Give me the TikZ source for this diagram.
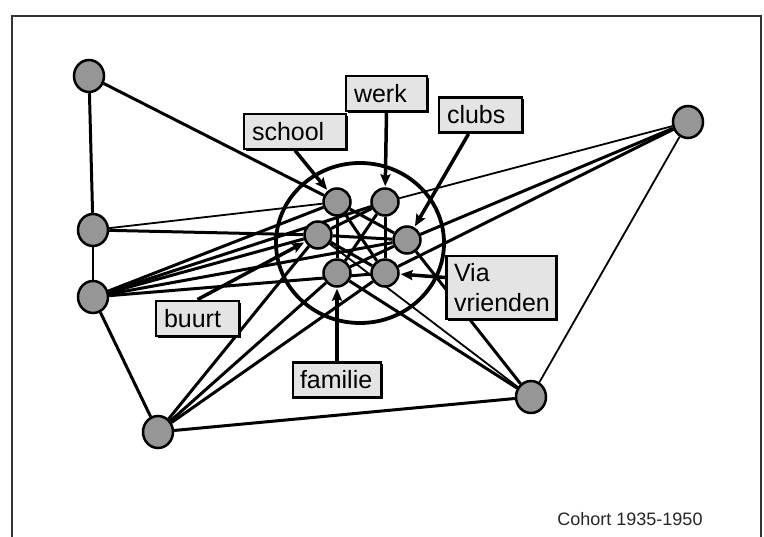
\documentclass[tikz,border=0pt]{standalone}
\usepackage{fontspec}
\setmainfont{Liberation Sans}
\usetikzlibrary{arrows.meta,shadows,backgrounds,shapes.geometric}
\definecolor{nodegray}{HTML}{969696}
\definecolor{boxgray}{HTML}{E4E4E4}
\begin{document}
\begin{tikzpicture}[x=1pt,y=-1pt,
  outer/.style={ellipse, minimum width=30pt, minimum height=32pt, inner sep=0pt, fill=nodegray, draw=black, line width=2.5pt},
  innr/.style={circle, minimum size=27pt, inner sep=0pt, fill=nodegray, draw=black, line width=2.5pt},
  lbl/.style={draw=black, line width=2.9pt, fill=boxgray, font=\fontsize{25}{30}\selectfont, align=left,
              inner xsep=8pt, inner ysep=0pt, minimum height=35pt,
              drop shadow={shadow xshift=1.6pt, shadow yshift=-1.6pt, fill=black, opacity=1}},
  lnk/.style={line width=3pt, black},
  lnkthin/.style={line width=1.8pt, black},
  arr/.style={line width=3.5pt, black, -{Stealth[length=12pt,width=10pt,inset=2pt]}, shorten >=1pt}
]
\useasboundingbox (0,0) rectangle (764,537);

% nodes
\node[outer] (A) at (89,76) {};
\node[outer] (B) at (93,230) {};
\node[outer] (C) at (93,297) {};
\node[outer] (D) at (158,432) {};
\node[outer] (E) at (531,397) {};
\node[outer] (F) at (688,122) {};
\node[innr] (n1) at (337,202) {};
\node[innr] (n2) at (385,202) {};
\node[innr] (n3) at (318,235) {};
\node[innr] (n4) at (407,240) {};
\node[innr] (n5) at (337,273) {};
\node[innr] (n6) at (385,273) {};

\begin{scope}[on background layer]
  \fill[white] (0,0) rectangle (764,537);
  % frame
  \draw[line width=1.8pt, black!80] (12,545) -- (12,16) -- (761,16) -- (761,545);
  \draw[line width=3.8pt] (360,243) ellipse [x radius=84, y radius=80];
  % outer structure
  \draw[lnk] (A) -- (B);
  \draw[lnk] (A) -- (n1);
  \draw[lnkthin] (B) -- (C);
  \draw[lnkthin] (B) -- (n1);
  \draw[lnk] (B) -- (n3);
  \draw[lnk] (C) -- (D);
  \draw[lnk] (C) -- (n1);
  \draw[lnk] (C) -- (n2);
  \draw[lnk] (C) -- (n3);
  \draw[lnk] (C) -- (n4);
  \draw[lnk] (C) -- (n6);
  \draw[lnkthin] (F) -- (n2);
  \draw[lnk] (F) -- (n4);
  \draw[lnk] (F) -- (n6);
  \draw[lnkthin] (F) -- (E);
  \draw[lnk] (D) -- (E);
  \draw[lnk] (D) -- (n3);
  \draw[lnk] (D) -- (n5);
  \draw[lnk] (D) -- (n6);
  \draw[lnk] (E) -- (n4);
  \draw[lnkthin] (E) -- (n3);
  \draw[lnk] (E) -- (n5);
  % inner structure
  \draw[lnk] (n1) -- (n4);
  \draw[lnk] (n1) -- (n5);
  \draw[lnk] (n1) -- (n6);
  \draw[lnk] (n2) -- (n3);
  \draw[lnk] (n2) -- (n5);
  \draw[lnk] (n2) -- (n6);
  \draw[lnk] (n3) -- (n4);
  \draw[lnk] (n3) -- (n6);
  \draw[lnk] (n4) -- (n5);
\end{scope}

% labels
\node[lbl, text width=65pt] (werk) at (386.5,93.5) {werk};
\node[lbl, text width=86pt] (school) at (295,131.5) {school};
\node[lbl, text width=67pt] (clubs) at (480.5,115) {clubs};
\node[lbl, text width=95pt, inner xsep=7.5pt, minimum height=63pt] (via) at (501.5,287.5) {Via\\vrienden};
\node[lbl, text width=67pt] (buurt) at (197.5,318.5) {buurt};
\node[lbl, text width=74pt, inner xsep=7pt] (familie) at (337,380) {familie};

% arrows
\draw[arr] (werk.south) -- (n2);
\draw[arr] (school.south) -- (n1);
\draw[arr] ([xshift=-12pt]clubs.south) -- (n4);
\draw[arr] ([yshift=10pt]via.west) -- (n6);
\draw[arr] (buurt.north) -- (n3);
\draw[arr] (familie.north) -- (n5);

\node[font=\fontsize{18}{22}\selectfont, text=black!85] (cohort) at (630,519) {Cohort 1935-1950};
\end{tikzpicture}
\end{document}
